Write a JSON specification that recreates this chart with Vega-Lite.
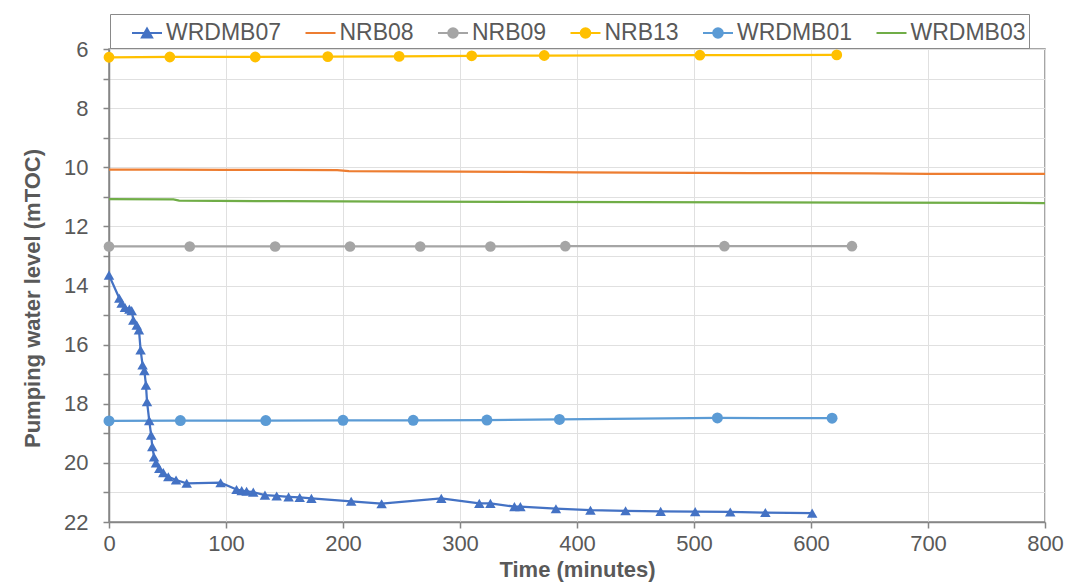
{
  "$schema": "https://vega.github.io/schema/vega-lite/v6.json",
  "width": 936,
  "height": 473,
  "autosize": {"type": "none"},
  "padding": {"left": 109, "top": 49, "right": 24, "bottom": 64},
  "background": "white",
  "config": {
    "font": "Liberation Sans",
    "view": {"stroke": "#898989", "strokeWidth": 1.5}
  },
  "data": {
    "values": [
      {"s": "WRDMB07", "t": 0, "h": 13.65},
      {"s": "WRDMB07", "t": 8.8, "h": 14.43},
      {"s": "WRDMB07", "t": 10.8, "h": 14.6},
      {"s": "WRDMB07", "t": 13.6, "h": 14.74},
      {"s": "WRDMB07", "t": 17.4, "h": 14.8},
      {"s": "WRDMB07", "t": 19.4, "h": 14.85},
      {"s": "WRDMB07", "t": 20.8, "h": 15.17},
      {"s": "WRDMB07", "t": 23.7, "h": 15.34},
      {"s": "WRDMB07", "t": 25.6, "h": 15.5},
      {"s": "WRDMB07", "t": 27, "h": 16.18},
      {"s": "WRDMB07", "t": 28.7, "h": 16.69},
      {"s": "WRDMB07", "t": 30.2, "h": 16.88},
      {"s": "WRDMB07", "t": 31.6, "h": 17.37},
      {"s": "WRDMB07", "t": 32.5, "h": 17.93},
      {"s": "WRDMB07", "t": 34.4, "h": 18.57},
      {"s": "WRDMB07", "t": 36, "h": 19.06},
      {"s": "WRDMB07", "t": 37, "h": 19.45},
      {"s": "WRDMB07", "t": 38.5, "h": 19.8},
      {"s": "WRDMB07", "t": 40.2, "h": 20.0},
      {"s": "WRDMB07", "t": 43, "h": 20.19},
      {"s": "WRDMB07", "t": 46.4, "h": 20.33},
      {"s": "WRDMB07", "t": 50.7, "h": 20.47},
      {"s": "WRDMB07", "t": 57.3, "h": 20.58},
      {"s": "WRDMB07", "t": 66.4, "h": 20.69},
      {"s": "WRDMB07", "t": 95.4, "h": 20.67},
      {"s": "WRDMB07", "t": 109, "h": 20.9},
      {"s": "WRDMB07", "t": 113.4, "h": 20.94},
      {"s": "WRDMB07", "t": 117.6, "h": 20.96},
      {"s": "WRDMB07", "t": 123.3, "h": 20.99},
      {"s": "WRDMB07", "t": 133.3, "h": 21.09},
      {"s": "WRDMB07", "t": 143.3, "h": 21.12},
      {"s": "WRDMB07", "t": 153.5, "h": 21.15},
      {"s": "WRDMB07", "t": 163, "h": 21.17},
      {"s": "WRDMB07", "t": 173, "h": 21.2},
      {"s": "WRDMB07", "t": 207, "h": 21.3},
      {"s": "WRDMB07", "t": 233, "h": 21.38},
      {"s": "WRDMB07", "t": 284, "h": 21.2},
      {"s": "WRDMB07", "t": 316.5, "h": 21.37},
      {"s": "WRDMB07", "t": 326, "h": 21.37},
      {"s": "WRDMB07", "t": 346.5, "h": 21.48},
      {"s": "WRDMB07", "t": 351.6, "h": 21.48},
      {"s": "WRDMB07", "t": 382, "h": 21.55},
      {"s": "WRDMB07", "t": 411.5, "h": 21.6},
      {"s": "WRDMB07", "t": 441.5, "h": 21.62},
      {"s": "WRDMB07", "t": 471.5, "h": 21.64},
      {"s": "WRDMB07", "t": 501, "h": 21.65},
      {"s": "WRDMB07", "t": 531, "h": 21.66},
      {"s": "WRDMB07", "t": 561, "h": 21.68},
      {"s": "WRDMB07", "t": 601, "h": 21.7},
      {"s": "NRB08", "t": 0, "h": 10.08},
      {"s": "NRB08", "t": 50, "h": 10.08},
      {"s": "NRB08", "t": 100, "h": 10.09},
      {"s": "NRB08", "t": 150, "h": 10.09},
      {"s": "NRB08", "t": 195, "h": 10.1},
      {"s": "NRB08", "t": 205, "h": 10.13},
      {"s": "NRB08", "t": 250, "h": 10.14},
      {"s": "NRB08", "t": 300, "h": 10.15},
      {"s": "NRB08", "t": 350, "h": 10.16},
      {"s": "NRB08", "t": 400, "h": 10.17},
      {"s": "NRB08", "t": 450, "h": 10.18},
      {"s": "NRB08", "t": 500, "h": 10.19},
      {"s": "NRB08", "t": 550, "h": 10.2},
      {"s": "NRB08", "t": 600, "h": 10.2},
      {"s": "NRB08", "t": 650, "h": 10.21},
      {"s": "NRB08", "t": 700, "h": 10.22},
      {"s": "NRB08", "t": 750, "h": 10.22},
      {"s": "NRB08", "t": 800, "h": 10.22},
      {"s": "NRB09", "t": 0, "h": 12.68},
      {"s": "NRB09", "t": 69, "h": 12.68},
      {"s": "NRB09", "t": 142, "h": 12.68},
      {"s": "NRB09", "t": 206, "h": 12.68},
      {"s": "NRB09", "t": 266, "h": 12.68},
      {"s": "NRB09", "t": 326, "h": 12.68},
      {"s": "NRB09", "t": 390, "h": 12.67},
      {"s": "NRB09", "t": 526, "h": 12.67},
      {"s": "NRB09", "t": 635, "h": 12.67},
      {"s": "NRB13", "t": 0, "h": 6.28},
      {"s": "NRB13", "t": 52, "h": 6.27},
      {"s": "NRB13", "t": 125, "h": 6.27},
      {"s": "NRB13", "t": 187, "h": 6.26},
      {"s": "NRB13", "t": 248, "h": 6.25},
      {"s": "NRB13", "t": 310, "h": 6.23},
      {"s": "NRB13", "t": 372, "h": 6.22},
      {"s": "NRB13", "t": 505, "h": 6.21},
      {"s": "NRB13", "t": 622, "h": 6.2},
      {"s": "WRDMB01", "t": 0, "h": 18.58},
      {"s": "WRDMB01", "t": 61, "h": 18.57},
      {"s": "WRDMB01", "t": 134, "h": 18.57},
      {"s": "WRDMB01", "t": 200, "h": 18.56},
      {"s": "WRDMB01", "t": 260, "h": 18.56},
      {"s": "WRDMB01", "t": 323, "h": 18.55},
      {"s": "WRDMB01", "t": 385, "h": 18.53},
      {"s": "WRDMB01", "t": 520, "h": 18.48},
      {"s": "WRDMB01", "t": 618, "h": 18.49},
      {"s": "WRDMB03", "t": 0, "h": 11.08},
      {"s": "WRDMB03", "t": 55, "h": 11.09},
      {"s": "WRDMB03", "t": 60, "h": 11.13},
      {"s": "WRDMB03", "t": 150, "h": 11.15},
      {"s": "WRDMB03", "t": 250, "h": 11.16},
      {"s": "WRDMB03", "t": 350, "h": 11.17},
      {"s": "WRDMB03", "t": 450, "h": 11.18},
      {"s": "WRDMB03", "t": 550, "h": 11.19},
      {"s": "WRDMB03", "t": 650, "h": 11.2},
      {"s": "WRDMB03", "t": 800, "h": 11.21}
    ]
  },
  "encoding": {
    "x": {
      "field": "t", "type": "quantitative",
      "scale": {"domain": [0, 800], "nice": false, "zero": false},
      "axis": {
        "values": [0, 100, 200, 300, 400, 500, 600, 700, 800],
        "grid": true, "gridColor": "#E0E0E0", "gridWidth": 1,
        "domainColor": "#868686", "domainWidth": 1.5,
        "tickColor": "#868686", "tickSize": 6, "tickWidth": 1.5,
        "labelFontSize": 22, "labelColor": "#595959", "labelPadding": 5,
        "labelFlush": false, "labelOverlap": false, "labelBound": false,
        "title": "Time (minutes)", "titleFontSize": 22, "titleColor": "#595959",
        "titleFontWeight": "bold", "titleBaseline": "alphabetic", "titleY": 54
      }
    },
    "y": {
      "field": "h", "type": "quantitative",
      "scale": {"domain": [6, 22], "reverse": true, "nice": false, "zero": false},
      "axis": {
        "values": [6, 7, 8, 9, 10, 11, 12, 13, 14, 15, 16, 17, 18, 19, 20, 21, 22],
        "labelExpr": "datum.value % 2 == 0 ? datum.label : ''",
        "grid": true, "gridColor": "#E0E0E0", "gridWidth": 1,
        "domainColor": "#868686", "domainWidth": 1.5,
        "tickColor": "#868686", "tickSize": 6, "tickWidth": 1.5,
        "labelFontSize": 22, "labelColor": "#595959", "labelPadding": 15,
        "labelOverlap": false, "labelBound": false, "labelFlush": false,
        "title": "Pumping water level (mTOC)", "titleFontSize": 22, "titleColor": "#595959",
        "titleFontWeight": "bold", "titleBaseline": "alphabetic", "titleX": -70, "titleY": 249
      }
    }
  },
  "layer": [
    {
      "mark": {"type": "line", "strokeWidth": 2.25},
      "encoding": {
        "color": {
          "field": "s", "type": "nominal",
          "scale": {
            "domain": ["WRDMB07", "NRB08", "NRB09", "NRB13", "WRDMB01", "WRDMB03"],
            "range": ["#4472C4", "#ED7D31", "#A5A5A5", "#FFC000", "#5B9BD5", "#70AD47"]
          },
          "legend": {
            "orient": "none", "legendX": 1, "legendY": -35,
            "direction": "horizontal",
            "title": " ", "titleOrient": "left", "titlePadding": 18, "titleFontSize": 22,
            "symbolSize": 900, "symbolStrokeWidth": 2, "symbolType": "stroke",
            "labelFontSize": 23, "labelColor": "#595959", "labelOffset": 3,
            "labelExpr": "datum.label == 'WRDMB03' ? datum.label + '\u00a0\u00a0\u00a0' : datum.label",
            "columnPadding": 19.5, "padding": 3,
            "strokeColor": "#898989",
            "encode": {
              "symbols": {
                "update": {
                  "shape": {"signal": "datum.value == 'WRDMB07' ? 'M-1,0H1M-0.34,0.3L0,-0.3L0.34,0.3Z' : (datum.value == 'NRB08' || datum.value == 'WRDMB03') ? 'M-1,0H1' : 'M-1,0H1M-0.32,0A0.32,0.32,0,1,1,0.32,0A0.32,0.32,0,1,1,-0.32,0Z'"},
                  "fill": {"scale": "color", "field": "value"},
                  "stroke": {"scale": "color", "field": "value"},
                  "strokeWidth": {"value": 2},
                  "opacity": {"value": 1}
                }
              }
            }
          }
        }
      }
    },
    {
      "transform": [{"filter": "datum.s != 'NRB08' && datum.s != 'WRDMB03'"}],
      "mark": {"type": "point", "filled": true, "opacity": 1},
      "encoding": {
        "color": {"field": "s", "type": "nominal", "legend": null},
        "shape": {
          "field": "s", "type": "nominal", "legend": null,
          "scale": {
            "domain": ["WRDMB07", "NRB09", "NRB13", "WRDMB01"],
            "range": ["triangle-up", "circle", "circle", "circle"]
          }
        },
        "size": {
          "field": "s", "type": "nominal", "legend": null,
          "scale": {
            "domain": ["WRDMB07", "NRB09", "NRB13", "WRDMB01"],
            "range": [110, 120, 120, 120]
          }
        }
      }
    }
  ]
}
